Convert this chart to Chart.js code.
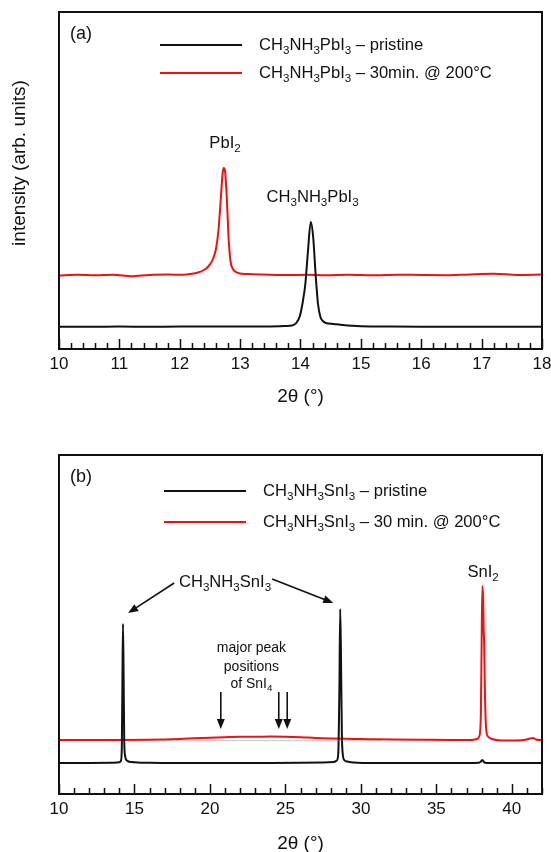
<!DOCTYPE html>
<html>
<head>
<meta charset="utf-8">
<script src="https://cdn.jsdelivr.net/npm/chart.js@4/dist/chart.umd.min.js"></script>
<style>
	body { margin: 0; background: #fff; }
	canvas { position: absolute; left: 0; }
	#chart-a { top: 0; }
	#chart-b { top: 420px; }
</style>
</head>
<body>
<canvas id="chart-a" width="551" height="420"></canvas>
<canvas id="chart-b" width="551" height="432"></canvas>
<script>
// (a) CH3NH3PbI3, 2theta range 10-18
var xA_black = [10, 10.5, 11, 11.5, 12, 12.5, 13, 13.5, 13.75, 13.86, 13.93, 13.99, 14.04, 14.08, 14.12, 14.17, 14.21, 14.25, 14.29, 14.33, 14.37, 14.42, 14.55, 14.7, 14.85, 15.0, 15.5, 16, 16.5, 17, 17.5, 18];
var yA_black = [22.3, 22.3, 22.4, 22.3, 22.4, 22.4, 22.5, 22.6, 23.0, 23.5, 26, 33, 48, 65, 95, 127, 112, 75, 45, 32, 28, 26, 25, 24, 23.2, 22.7, 22.4, 22.3, 22.3, 22.3, 22.3, 22.3];
var xA_red = [10, 10.3, 10.6, 10.9, 11.2, 11.5, 11.8, 12.05, 12.2, 12.3, 12.4, 12.48, 12.55, 12.6, 12.64, 12.68, 12.71, 12.73, 12.75, 12.78, 12.81, 12.84, 12.88, 12.93, 13.0, 13.2, 13.5, 13.8, 14.1, 14.4, 14.8, 15.2, 15.6, 16.0, 16.4, 16.8, 17.2, 17.6, 18];
var yA_red = [73.5, 74.2, 73.8, 74.3, 72.8, 74.1, 74.4, 74.3, 75.2, 76.5, 79, 83, 90, 100, 118, 150, 176, 181, 178, 150, 110, 88, 80, 77, 75.5, 74.8, 74.2, 73.9, 74.3, 73.8, 74.2, 73.7, 74.3, 74.0, 73.8, 74.6, 75.2, 74.1, 74.5];
var ticksA = [10, 11, 12, 13, 14, 15, 16, 17, 18];
var legendA = ["CH_3NH_3PbI_3 – pristine", "CH_3NH_3PbI_3 – 30min. @ 200°C"];

// (b) CH3NH3SnI3, 2theta range 10-42
var xB_black = [10, 12, 13.5, 14.0, 14.1, 14.16, 14.2, 14.24, 14.28, 14.32, 14.38, 14.5, 14.8, 16, 18, 20, 22, 24, 26, 27.5, 28.2, 28.4, 28.5, 28.58, 28.63, 28.68, 28.74, 28.8, 28.9, 29.1, 29.5, 31, 33, 35, 37, 37.8, 37.95, 38.05, 38.15, 38.3, 39, 40, 41, 42];
var yB_black = [31, 31, 31.2, 31.8, 33, 45, 110, 170, 120, 55, 38, 33.5, 32, 31.2, 31, 31, 31, 31, 31.2, 31.5, 32, 33.5, 40, 110, 185, 140, 60, 40, 34, 32.5, 31.5, 31, 31, 31, 31, 31.2, 32.5, 34, 32, 31, 31, 31, 31, 31];
var xB_red = [10, 12, 14, 16, 17, 18, 19, 20, 21, 22, 23, 24, 25, 26, 27, 28, 29, 30, 31, 32, 34, 36, 37.3, 37.7, 37.85, 37.95, 38.0, 38.05, 38.1, 38.13, 38.17, 38.22, 38.3, 38.45, 38.7, 39.3, 40, 40.8, 41.2, 41.4, 41.6, 42];
var yB_red = [54, 54, 54, 54.2, 54.5, 55, 55.7, 56.3, 56.8, 57.2, 57.2, 57.5, 57.3, 56.8, 56, 55.5, 55.2, 55, 54.7, 54.5, 54.2, 54, 54, 55, 58, 80, 150, 208, 195, 168, 150, 100, 65, 57, 55, 53.5, 53.5, 54, 55.5, 56, 54.5, 53.7];
var xB_ref = [16.8, 31.4];
var yB_ref = [53.3, 53.3];
var ticksB = [10, 15, 20, 25, 30, 35, 40];
var legendB = ["CH_3NH_3SnI_3 – pristine", "CH_3NH_3SnI_3 – 30 min. @ 200°C"];

var FONT = "'Liberation Sans', Arial, sans-serif";
var RED = "#ee1111";
var BLACK = "#111111";

function points(xs, ys)
{
	return xs.map(function(x, i) { return { x: x, y: ys[i] }; });
}

// draws text where "_3" means subscript 3
function drawRich(ctx, text, x, y, size, align)
{
	var segs = [];
	for (var i = 0; i < text.length; i++)
	{
		if (text[i] === "_" && i + 1 < text.length)
		{
			segs.push({ t: text[i + 1], sub: true });
			i++;
		}
		else if (segs.length && !segs[segs.length - 1].sub)
		{
			segs[segs.length - 1].t += text[i];
		}
		else
		{
			segs.push({ t: text[i], sub: false });
		}
	}
	var total = 0;
	segs.forEach(function(s)
	{
		ctx.font = (s.sub ? size * 0.7 : size) + "px " + FONT;
		s.w = ctx.measureText(s.t).width;
		total += s.w;
	});
	var cx = align === "center" ? x - total / 2 : x;
	ctx.textAlign = "left";
	ctx.textBaseline = "middle";
	segs.forEach(function(s)
	{
		ctx.font = (s.sub ? size * 0.7 : size) + "px " + FONT;
		ctx.fillText(s.t, cx, s.sub ? y + size * 0.32 : y);
		cx += s.w;
	});
}

function drawArrow(ctx, x1, y1, x2, y2)
{
	var a = Math.atan2(y2 - y1, x2 - x1);
	var len = 10, half = 4;
	ctx.beginPath();
	ctx.moveTo(x1, y1);
	ctx.lineTo(x2 - Math.cos(a) * len * 0.8, y2 - Math.sin(a) * len * 0.8);
	ctx.stroke();
	ctx.beginPath();
	ctx.moveTo(x2, y2);
	ctx.lineTo(x2 - Math.cos(a) * len - Math.sin(a) * half, y2 - Math.sin(a) * len + Math.cos(a) * half);
	ctx.lineTo(x2 - Math.cos(a) * len + Math.sin(a) * half, y2 - Math.sin(a) * len - Math.cos(a) * half);
	ctx.closePath();
	ctx.fill();
}

var framePlugin = {
	id: "frame",
	afterDraw: function(chart)
	{
		var d = chart.options.plugins.frame;
		var ctx = chart.ctx;
		var area = chart.chartArea;
		var xs = chart.scales.x;
		var ys = chart.scales.y;
		ctx.save();
		ctx.strokeStyle = BLACK;
		ctx.fillStyle = BLACK;

		// inward ticks
		ctx.lineWidth = 1.5;
		ctx.beginPath();
		for (var v = xs.min; v <= xs.max + 1e-9; v += d.minor)
		{
			var px = Math.round(xs.getPixelForValue(v)) + 0.5;
			var isMajor = Math.abs(v / d.major - Math.round(v / d.major)) < 1e-6;
			ctx.moveTo(px, area.bottom);
			ctx.lineTo(px, area.bottom - (isMajor ? 10 : 6));
		}
		ctx.stroke();

		// box
		ctx.lineWidth = 2;
		ctx.strokeRect(area.left, area.top, area.right - area.left, area.bottom - area.top);

		// panel letter
		ctx.font = "18px " + FONT;
		ctx.textAlign = "left";
		ctx.textBaseline = "middle";
		ctx.fillText(d.letter, area.left + 11, area.top + 22);

		// legend
		var colors = [BLACK, RED];
		d.legend.forEach(function(txt, i)
		{
			var ly = area.top + d.legendTop + i * d.legendGap;
			ctx.strokeStyle = colors[i];
			ctx.lineWidth = 2;
			ctx.beginPath();
			ctx.moveTo(area.left + d.legendX, ly);
			ctx.lineTo(area.left + d.legendX + 82, ly);
			ctx.stroke();
			ctx.fillStyle = BLACK;
			drawRich(ctx, txt, area.left + d.legendX + 99, ly, 16.6, "left");
		});

		// peak labels
		ctx.fillStyle = BLACK;
		d.labels.forEach(function(l)
		{
			drawRich(ctx, l.text, xs.getPixelForValue(l.x), ys.getPixelForValue(l.y), l.size || 16.6, "center");
		});

		// arrows
		ctx.strokeStyle = BLACK;
		ctx.lineWidth = 1.6;
		d.arrows.forEach(function(a)
		{
			drawArrow(ctx, xs.getPixelForValue(a[0]), ys.getPixelForValue(a[1]), xs.getPixelForValue(a[2]), ys.getPixelForValue(a[3]));
		});

		// axis titles
		ctx.font = "19px " + FONT;
		ctx.textAlign = "center";
		ctx.textBaseline = "middle";
		ctx.fillText("2θ (°)", (area.left + area.right) / 2, area.bottom + d.xTitleOffset);
		ctx.translate(20, d.yTitleCenter);
		ctx.rotate(-Math.PI / 2);
		ctx.fillText("intensity (arb. units)", 0, 0);
		ctx.restore();
	}
};

function makeChart(id, cfg)
{
	return new Chart(document.getElementById(id), {
		type: "line",
		data: { datasets: cfg.datasets },
		options: {
			responsive: false,
			animation: false,
			devicePixelRatio: 1,
			layout: { padding: { left: 59, right: 9, top: cfg.top, bottom: 0 } },
			elements: { point: { radius: 0 }, line: { borderWidth: 2, cubicInterpolationMode: "monotone" } },
			scales: {
				x: {
					type: "linear",
					min: cfg.min,
					max: cfg.max,
					grid: { display: false, drawTicks: false },
					border: { display: false },
					afterFit: function(scale)
					{
						scale.height = cfg.axisHeight;
						scale.paddingLeft = 0;
						scale.paddingRight = 0;
					},
					afterBuildTicks: function(scale) { scale.ticks = cfg.ticks.map(function(v) { return { value: v }; }); },
					ticks: { color: BLACK, padding: 5, font: { size: 17, family: FONT }, maxRotation: 0 }
				},
				y: { display: false, min: 0, max: cfg.yMax }
			},
			plugins: {
				legend: { display: false },
				tooltip: { enabled: false },
				frame: cfg.frame
			}
		},
		plugins: [framePlugin]
	});
}

makeChart("chart-a", {
	top: 12, axisHeight: 71, min: 10, max: 18, yMax: 337, ticks: ticksA,
	datasets: [
		{ data: points(xA_black, yA_black), borderColor: BLACK },
		{ data: points(xA_red, yA_red), borderColor: RED }
	],
	frame: {
		letter: "(a)", major: 1, minor: 0.2,
		legend: legendA, legendX: 101, legendTop: 33, legendGap: 28,
		labels: [
			{ text: "PbI_2", x: 12.75, y: 206 },
			{ text: "CH_3NH_3PbI_3", x: 14.2, y: 152 }
		],
		arrows: [],
		xTitleOffset: 48, yTitleCenter: 163
	}
});

makeChart("chart-b", {
	top: 35, axisHeight: 58, min: 10, max: 42, yMax: 339, ticks: ticksB,
	datasets: [
		{ data: points(xB_ref, yB_ref), borderColor: "#888888", borderWidth: 1, borderDash: [1, 1] },
		{ data: points(xB_black, yB_black), borderColor: BLACK },
		{ data: points(xB_red, yB_red), borderColor: RED }
	],
	frame: {
		letter: "(b)", major: 5, minor: 1,
		legend: legendB, legendX: 105, legendTop: 36, legendGap: 31,
		labels: [
			{ text: "CH_3NH_3SnI_3", x: 21.0, y: 212 },
			{ text: "SnI_2", x: 38.1, y: 222 },
			{ text: "major peak", x: 22.75, y: 146, size: 14 },
			{ text: "positions", x: 22.75, y: 127, size: 14 },
			{ text: "of SnI_4", x: 22.75, y: 110, size: 14 }
		],
		arrows: [
			[17.63, 211, 14.58, 181],
			[24.12, 215, 28.17, 191],
			[20.72, 102, 20.72, 65],
			[24.56, 102, 24.56, 65],
			[25.12, 102, 25.12, 65]
		],
		xTitleOffset: 50, yTitleCenter: 615
	}
});
</script>
</body>
</html>
